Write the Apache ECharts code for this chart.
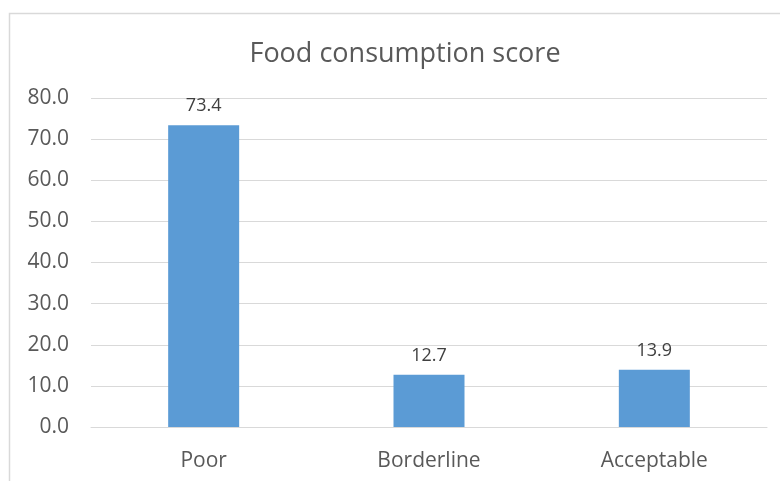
<!DOCTYPE html>
<html><head><meta charset="utf-8">
<script src="https://cdn.jsdelivr.net/npm/echarts@6/dist/echarts.min.js"></script>
<style>html,body{margin:0;padding:0;background:#fff}#c{width:780px;height:481px}</style>
</head><body><div id="c"></div>
<script>
const categories = ["Poor", "Borderline", "Acceptable"];
const values = [73.4, 12.7, 13.9];
const chartTitle = "Food consumption score";

const chart = echarts.init(document.getElementById('c'));
const FONT = "'Open Sans', 'Liberation Sans', sans-serif";
chart.setOption({
  animation: false,
  backgroundColor: '#fff',
  graphic: [{
    type: 'rect', shape: {x: 9.5, y: 13.5, width: 800, height: 500},
    style: {fill: 'none', stroke: '#d9d9d9', lineWidth: 1.5}, silent: true
  }],
  title: {
    text: chartTitle, left: 400, textAlign: 'center', top: 36,
    textStyle: {fontFamily: FONT, fontSize: 27, fontWeight: 'normal', color: '#595959'}
  },
  grid: {left: 91, right: 13, top: 98, bottom: 54, containLabel: false},
  xAxis: {
    type: 'category', data: categories,
    axisLine: {show: true, lineStyle: {color: '#d9d9d9'}},
    axisTick: {show: false},
    axisLabel: {fontFamily: FONT, fontSize: 21, color: '#595959', margin: 24}
  },
  yAxis: {
    type: 'value', min: 0, max: 80, interval: 10,
    axisLine: {show: false}, axisTick: {show: false},
    splitLine: {lineStyle: {color: '#d9d9d9', width: 1}},
    axisLabel: {fontFamily: FONT, fontSize: 21, color: '#595959', margin: 22,
      formatter: v => v.toFixed(1)}
  },
  series: [{
    type: 'bar', data: values, barWidth: 71,
    itemStyle: {color: '#5b9bd5'},
    label: {show: true, position: 'top', distance: 10, fontFamily: FONT, fontSize: 18,
      color: '#404040', formatter: p => p.value.toFixed(1)}
  }]
});
</script></body></html>
